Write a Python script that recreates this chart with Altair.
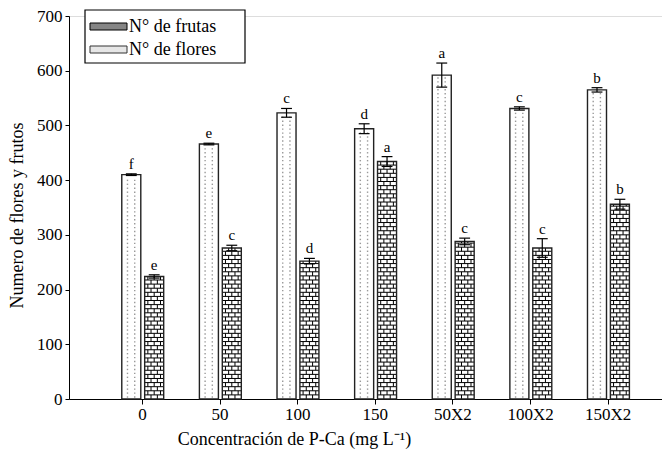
import altair as alt
import pandas as pd
import numpy as np

# ---------------- data ----------------
cats = ["0", "50", "100", "150", "50X2", "100X2", "150X2"]
flores = [410, 466, 523, 494, 592, 531, 565]
flores_err = [1.5, 1.5, 8, 9, 22, 3, 4]
flores_let = ["f", "e", "c", "d", "a", "c", "b"]
frutas = [224, 276, 252, 434, 288, 276, 356]
frutas_err = [3, 5, 5, 9, 6, 17, 9]
frutas_let = ["e", "c", "d", "a", "c", "c", "b"]
yticks = [0, 100, 200, 300, 400, 500, 600, 700]

# ---------------- layout / style ----------------
W, H = 593, 383
FONT = "Liberation Serif"
xdom = [-0.94, 6.7]
FL = (-0.26, -0.015)   # bar extent relative to category centre (flores)
FR = (0.035, 0.28)     # (frutas)
CAP = 0.07
BRICK_H = 7.5          # brick row height in data units
DOT_H = 7.2

rows = []
for i, c in enumerate(cats):
    for s, off, v, e, l in (("flores", FL, flores[i], flores_err[i], flores_let[i]),
                            ("frutas", FR, frutas[i], frutas_err[i], frutas_let[i])):
        x0, x1 = i + off[0], i + off[1]
        xc = (x0 + x1) / 2
        rows.append(dict(cat=c, series=s, x0=x0, x1=x1, xc=xc, cl=xc - CAP, cr=xc + CAP,
                         v=v, lo=v - e, hi=v + e, letter=l, zero=0))
df = pd.DataFrame(rows)

# brick mortar (derived from bar values)
hl, vl = [], []
for r in rows:
    if r["series"] != "frutas":
        continue
    w = r["x1"] - r["x0"]
    n = int(r["v"] // BRICK_H)
    for k in range(1, n + 1):
        hl.append(dict(x0=r["x0"], x1=r["x1"], y=k * BRICK_H))
    for k in range(n + 1):
        ylo, yhi = k * BRICK_H, min((k + 1) * BRICK_H, r["v"])
        fr = [1 / 3, 2 / 3] if k % 2 == 0 else [1 / 6, 1 / 2, 5 / 6]
        for f in fr:
            vl.append(dict(x=r["x0"] + f * w, y0=ylo, y1=yhi))
hdf, vdf = pd.DataFrame(hl), pd.DataFrame(vl)

# dots for flores bars
dots = []
for r in rows:
    if r["series"] != "flores":
        continue
    w = r["x1"] - r["x0"]
    n = int(r["v"] // DOT_H)
    for k in range(n):
        for f in (0.3, 0.68):
            dots.append(dict(x=r["x0"] + f * w, y=(k + 0.5) * DOT_H))
ddf = pd.DataFrame(dots)

xs = alt.Scale(domain=xdom, nice=False, zero=False)
ys = alt.Scale(domain=[0, 700], nice=False)
label_expr = "[" + ",".join("'%s'" % c for c in cats) + "][datum.value]"

xaxis = alt.Axis(values=list(range(len(cats))), labelExpr=label_expr,
                 title="Concentración de P-Ca (mg L⁻¹)", grid=False,
                 tickSize=5, labelPadding=2, titleX=225, titleY=31, titleAlign="center",
                 labelFont=FONT, labelFontSize=17, titleFont=FONT, titleFontSize=18,
                 titleFontWeight="normal", domainColor="black", tickColor="black",
                 labelColor="black", titleColor="black")
yaxis = alt.Axis(values=yticks, title="Numero de flores y frutos", grid=False,
                 tickSize=4, labelPadding=3, titleX=-52, titleY=199,
                 titleBaseline="middle", titleAlign="center", titleAngle=270,
                 labelFont=FONT, labelFontSize=17, titleFont=FONT, titleFontSize=18,
                 titleFontWeight="normal", domainColor="black", tickColor="black",
                 labelColor="black", titleColor="black")


def X(f):
    return alt.X(f, type="quantitative", scale=xs, axis=xaxis)


def Y(f):
    return alt.Y(f, type="quantitative", scale=ys, axis=yaxis)


base = alt.Chart(df)
fill = base.mark_rect(fill="white", stroke=None).encode(
    x=X("x0"), x2="x1:Q", y=Y("v"), y2="zero:Q")

dots_l = alt.Chart(ddf).mark_square(size=2, color="#9a9a9a", opacity=1).encode(
    x=X("x"), y=Y("y"))

hmort = alt.Chart(hdf).mark_rule(color="black", strokeWidth=1).encode(
    x=X("x0"), x2="x1:Q", y=Y("y"))
vmort = alt.Chart(vdf).mark_rule(color="black", strokeWidth=1).encode(
    x=X("x"), y=Y("y0"), y2="y1:Q")

outline = base.mark_rect(fill=None, stroke="#222", strokeWidth=1.4).encode(
    x=X("x0"), x2="x1:Q", y=Y("v"), y2="zero:Q")

ebar = base.mark_rule(color="black", strokeWidth=1.2).encode(
    x=X("xc"), y=Y("lo"), y2="hi:Q")
cap_hi = base.mark_rule(color="black", strokeWidth=1.2).encode(
    x=X("cl"), x2="cr:Q", y=Y("hi"))
cap_lo = base.mark_rule(color="black", strokeWidth=1.2).encode(
    x=X("cl"), x2="cr:Q", y=Y("lo"))

letters = base.mark_text(font=FONT, fontSize=15, baseline="bottom", dy=-2, color="black").encode(
    x=X("xc"), y=Y("hi"), text="letter:N")

# manual legend
one = pd.DataFrame({"a": [0]})
leg_box = alt.Chart(one).mark_rect(fill="white", stroke="black", strokeWidth=1.2).encode(
    x=alt.value(16), x2=alt.value(176), y=alt.value(-6), y2=alt.value(47))
sw1 = alt.Chart(one).mark_rect(fill="#858585", stroke="black", strokeWidth=1).encode(
    x=alt.value(21), x2=alt.value(58), y=alt.value(7), y2=alt.value(14))
sw2 = alt.Chart(one).mark_rect(fill="#e6e6e6", stroke="#333", strokeWidth=1).encode(
    x=alt.value(21), x2=alt.value(58), y=alt.value(30), y2=alt.value(37))
lt1 = alt.Chart(one).mark_text(font=FONT, fontSize=18, align="left", baseline="middle",
                               color="black", text="N° de frutas").encode(
    x=alt.value(60), y=alt.value(11))
lt2 = alt.Chart(one).mark_text(font=FONT, fontSize=18, align="left", baseline="middle",
                               color="black", text="N° de flores").encode(
    x=alt.value(60), y=alt.value(34))

chart = alt.layer(fill, dots_l, hmort, vmort, outline, ebar, cap_hi, cap_lo, letters,
                  leg_box, sw1, sw2, lt1, lt2).properties(
    width=W, height=H,
    autosize=alt.AutoSizeParams(type="none"),
    padding={"left": 61, "top": 8, "right": 0, "bottom": 55},
).configure_view(stroke=None).configure(background="white")

chart.save("out.html", embed_options={"renderer": "svg", "actions": False})
